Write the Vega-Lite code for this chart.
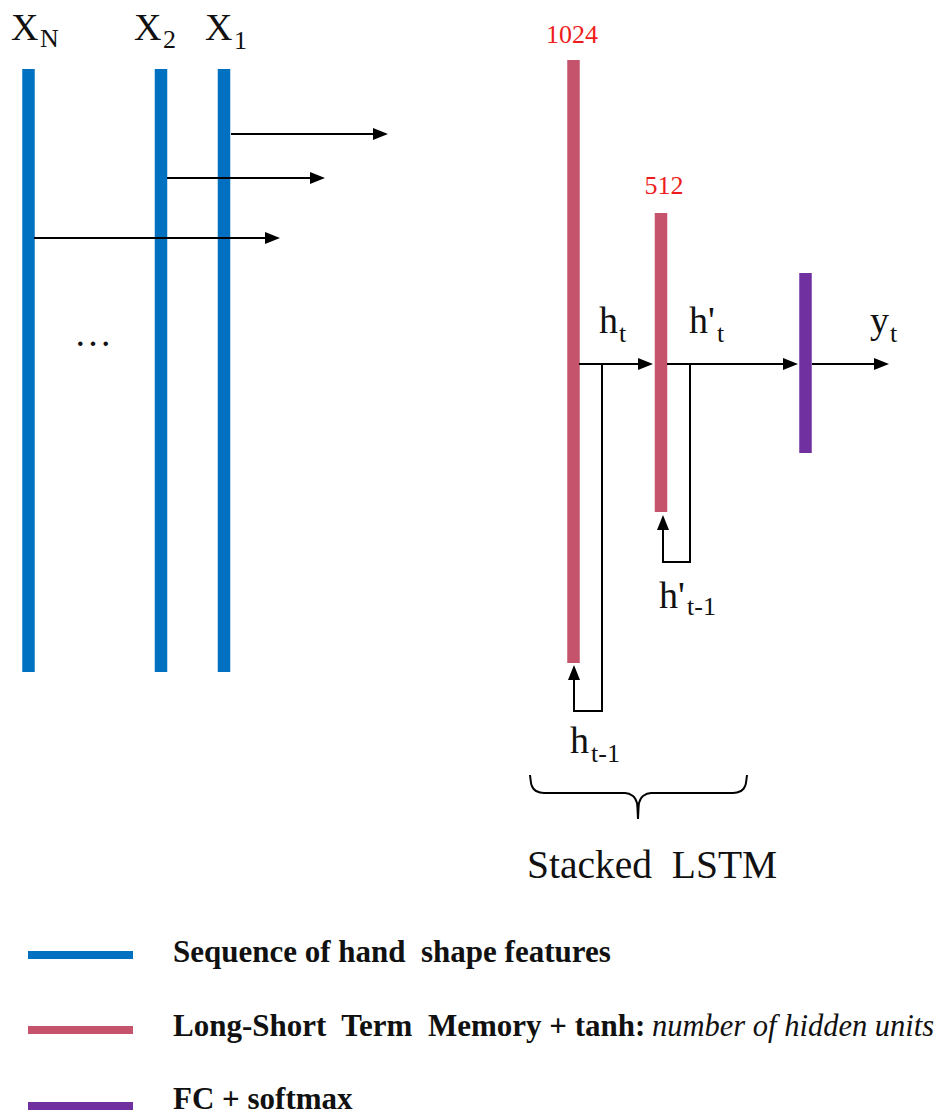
{
  "$schema": "https://vega.github.io/schema/vega-lite/v6.json",
  "width": 948,
  "height": 1117,
  "padding": 0,
  "autosize": "none",
  "background": "white",
  "config": {"view": {"stroke": null}},
  "datasets": {
    "bars": [
      {"id": "XN", "group": "features", "x": 28.5, "y": 69, "y2": 672},
      {"id": "X2", "group": "features", "x": 161, "y": 69, "y2": 672},
      {"id": "X1", "group": "features", "x": 224, "y": 69, "y2": 672},
      {"id": "L1", "group": "lstm", "x": 573.5, "y": 60, "y2": 663},
      {"id": "L2", "group": "lstm", "x": 661, "y": 213, "y2": 512},
      {"id": "FC", "group": "fc", "x": 805.5, "y": 273, "y2": 453}
    ],
    "legendLines": [
      {"group": "features", "x": 28, "x2": 133, "y": 955},
      {"group": "lstm", "x": 28, "x2": 133, "y": 1030},
      {"group": "fc", "x": 28, "x2": 133, "y": 1106}
    ],
    "segments": [
      {"x": 232, "y": 134, "x2": 376, "y2": 134},
      {"x": 168, "y": 178, "x2": 313, "y2": 178},
      {"x": 35, "y": 238, "x2": 268, "y2": 238},
      {"x": 580, "y": 364, "x2": 641, "y2": 364},
      {"x": 668, "y": 364, "x2": 786, "y2": 364},
      {"x": 813, "y": 364, "x2": 877, "y2": 364},
      {"x": 602, "y": 364, "x2": 602, "y2": 711},
      {"x": 574, "y": 711, "x2": 602, "y2": 711},
      {"x": 574, "y": 679, "x2": 574, "y2": 711},
      {"x": 690, "y": 364, "x2": 690, "y2": 562},
      {"x": 663, "y": 562, "x2": 690, "y2": 562},
      {"x": 663, "y": 528, "x2": 663, "y2": 562}
    ],
    "arrows": [
      {"dir": "right", "x": 388, "y": 134},
      {"dir": "right", "x": 325, "y": 178},
      {"dir": "right", "x": 280, "y": 238},
      {"dir": "right", "x": 653, "y": 364},
      {"dir": "right", "x": 798, "y": 364},
      {"dir": "right", "x": 889, "y": 364},
      {"dir": "up", "x": 574, "y": 665},
      {"dir": "up", "x": 663, "y": 515}
    ],
    "brace": [
      {"half": "L", "ord": 1, "x": 530, "y": 775},
      {"half": "L", "ord": 2, "x": 531.5, "y": 785},
      {"half": "L", "ord": 3, "x": 536, "y": 791},
      {"half": "L", "ord": 4, "x": 544, "y": 793},
      {"half": "L", "ord": 5, "x": 625, "y": 793},
      {"half": "L", "ord": 6, "x": 633, "y": 796},
      {"half": "L", "ord": 7, "x": 637, "y": 803},
      {"half": "L", "ord": 8, "x": 638, "y": 819},
      {"half": "R", "ord": 1, "x": 638, "y": 819},
      {"half": "R", "ord": 2, "x": 639, "y": 803},
      {"half": "R", "ord": 3, "x": 643, "y": 796},
      {"half": "R", "ord": 4, "x": 651, "y": 793},
      {"half": "R", "ord": 5, "x": 733, "y": 793},
      {"half": "R", "ord": 6, "x": 741, "y": 791},
      {"half": "R", "ord": 7, "x": 745.5, "y": 785},
      {"half": "R", "ord": 8, "x": 747, "y": 775}
    ],
    "labels": [
      {"kind": "main", "t": "X", "x": 11, "y": 40},
      {"kind": "main", "t": "X", "x": 134, "y": 40},
      {"kind": "main", "t": "X", "x": 205, "y": 40},
      {"kind": "main", "t": "h", "x": 599, "y": 333},
      {"kind": "main", "t": "h'", "x": 689, "y": 333},
      {"kind": "main", "t": "y", "x": 870, "y": 333},
      {"kind": "main", "t": "h'", "x": 659, "y": 608},
      {"kind": "main", "t": "h", "x": 570, "y": 753},
      {"kind": "main", "t": "…", "x": 74, "y": 346},
      {"kind": "title", "t": "Stacked\u00a0 LSTM", "x": 527, "y": 878},
      {"kind": "sub", "t": "N", "x": 40, "y": 47},
      {"kind": "sub", "t": "2", "x": 163, "y": 48},
      {"kind": "sub", "t": "1", "x": 234, "y": 49},
      {"kind": "sub", "t": "t", "x": 619, "y": 342},
      {"kind": "sub", "t": "t", "x": 717, "y": 342},
      {"kind": "sub", "t": "t", "x": 890, "y": 342},
      {"kind": "sub", "t": "t-1", "x": 687, "y": 615},
      {"kind": "sub", "t": "t-1", "x": 591, "y": 762},
      {"kind": "num", "t": "1024", "x": 572, "y": 43},
      {"kind": "num", "t": "512", "x": 664, "y": 194},
      {"kind": "legend", "t": "Sequence of hand\u00a0 shape features", "x": 173, "y": 962},
      {"kind": "legend", "t": "Long-Short\u00a0 Term\u00a0 Memory + tanh:", "x": 173, "y": 1036},
      {"kind": "legend", "t": "FC + softmax", "x": 173, "y": 1109},
      {"kind": "legendItalic", "t": "number of hidden units", "x": 652, "y": 1036}
    ]
  },
  "encoding": {
    "x": {"field": "x", "type": "quantitative", "scale": {"domain": [0, 948], "range": [0, 948], "nice": false, "zero": false}, "axis": null},
    "y": {"field": "y", "type": "quantitative", "scale": {"domain": [0, 1117], "range": [0, 1117], "nice": false, "zero": false}, "axis": null}
  },
  "layer": [
    {
      "data": {"name": "bars"},
      "mark": {"type": "rule", "strokeWidth": 12.5, "strokeCap": "butt"},
      "encoding": {
        "y2": {"field": "y2"},
        "color": {"field": "group", "type": "nominal", "scale": {"domain": ["features", "lstm", "fc"], "range": ["#0070C0", "#C4536B", "#7030A0"]}, "legend": null}
      }
    },
    {
      "data": {"name": "legendLines"},
      "mark": {"type": "rule", "strokeWidth": 8, "strokeCap": "butt"},
      "encoding": {
        "x2": {"field": "x2"},
        "color": {"field": "group", "type": "nominal", "scale": {"domain": ["features", "lstm", "fc"], "range": ["#0070C0", "#C4536B", "#7030A0"]}, "legend": null}
      }
    },
    {
      "data": {"name": "segments"},
      "mark": {"type": "rule", "strokeWidth": 2, "color": "black", "strokeCap": "square"},
      "encoding": {"x2": {"field": "x2"}, "y2": {"field": "y2"}}
    },
    {
      "data": {"name": "arrows"},
      "transform": [{"filter": "datum.dir === 'right'"}],
      "mark": {"type": "point", "shape": "M0,0L-2,-0.8L-2,0.8Z", "size": 225, "filled": true, "color": "black", "opacity": 1, "strokeWidth": 0}
    },
    {
      "data": {"name": "arrows"},
      "transform": [{"filter": "datum.dir === 'up'"}],
      "mark": {"type": "point", "shape": "M0,0L-0.8,2L0.8,2Z", "size": 225, "filled": true, "color": "black", "opacity": 1, "strokeWidth": 0}
    },
    {
      "data": {"name": "brace"},
      "mark": {"type": "line", "color": "black", "strokeWidth": 2, "interpolate": "monotone"},
      "encoding": {"detail": {"field": "half"}, "order": {"field": "ord", "type": "quantitative"}}
    },
    {
      "data": {"name": "labels"},
      "transform": [{"filter": "datum.kind === 'main'"}],
      "mark": {"type": "text", "font": "Liberation Serif", "fontSize": 38, "align": "left", "baseline": "alphabetic", "color": "#111111"},
      "encoding": {"text": {"field": "t"}}
    },
    {
      "data": {"name": "labels"},
      "transform": [{"filter": "datum.kind === 'title'"}],
      "mark": {"type": "text", "font": "Liberation Serif", "fontSize": 39.5, "align": "left", "baseline": "alphabetic", "color": "#111111"},
      "encoding": {"text": {"field": "t"}}
    },
    {
      "data": {"name": "labels"},
      "transform": [{"filter": "datum.kind === 'sub'"}],
      "mark": {"type": "text", "font": "Liberation Serif", "fontSize": 26, "align": "left", "baseline": "alphabetic", "color": "#111111"},
      "encoding": {"text": {"field": "t"}}
    },
    {
      "data": {"name": "labels"},
      "transform": [{"filter": "datum.kind === 'num'"}],
      "mark": {"type": "text", "font": "Liberation Serif", "fontSize": 26, "align": "center", "baseline": "alphabetic", "color": "#EE1C1C"},
      "encoding": {"text": {"field": "t"}}
    },
    {
      "data": {"name": "labels"},
      "transform": [{"filter": "datum.kind === 'legend'"}],
      "mark": {"type": "text", "font": "Liberation Serif", "fontSize": 31, "fontWeight": "bold", "align": "left", "baseline": "alphabetic", "color": "#111111"},
      "encoding": {"text": {"field": "t"}}
    },
    {
      "data": {"name": "labels"},
      "transform": [{"filter": "datum.kind === 'legendItalic'"}],
      "mark": {"type": "text", "font": "Liberation Serif", "fontSize": 30.5, "fontStyle": "italic", "align": "left", "baseline": "alphabetic", "color": "#111111"},
      "encoding": {"text": {"field": "t"}}
    }
  ]
}
